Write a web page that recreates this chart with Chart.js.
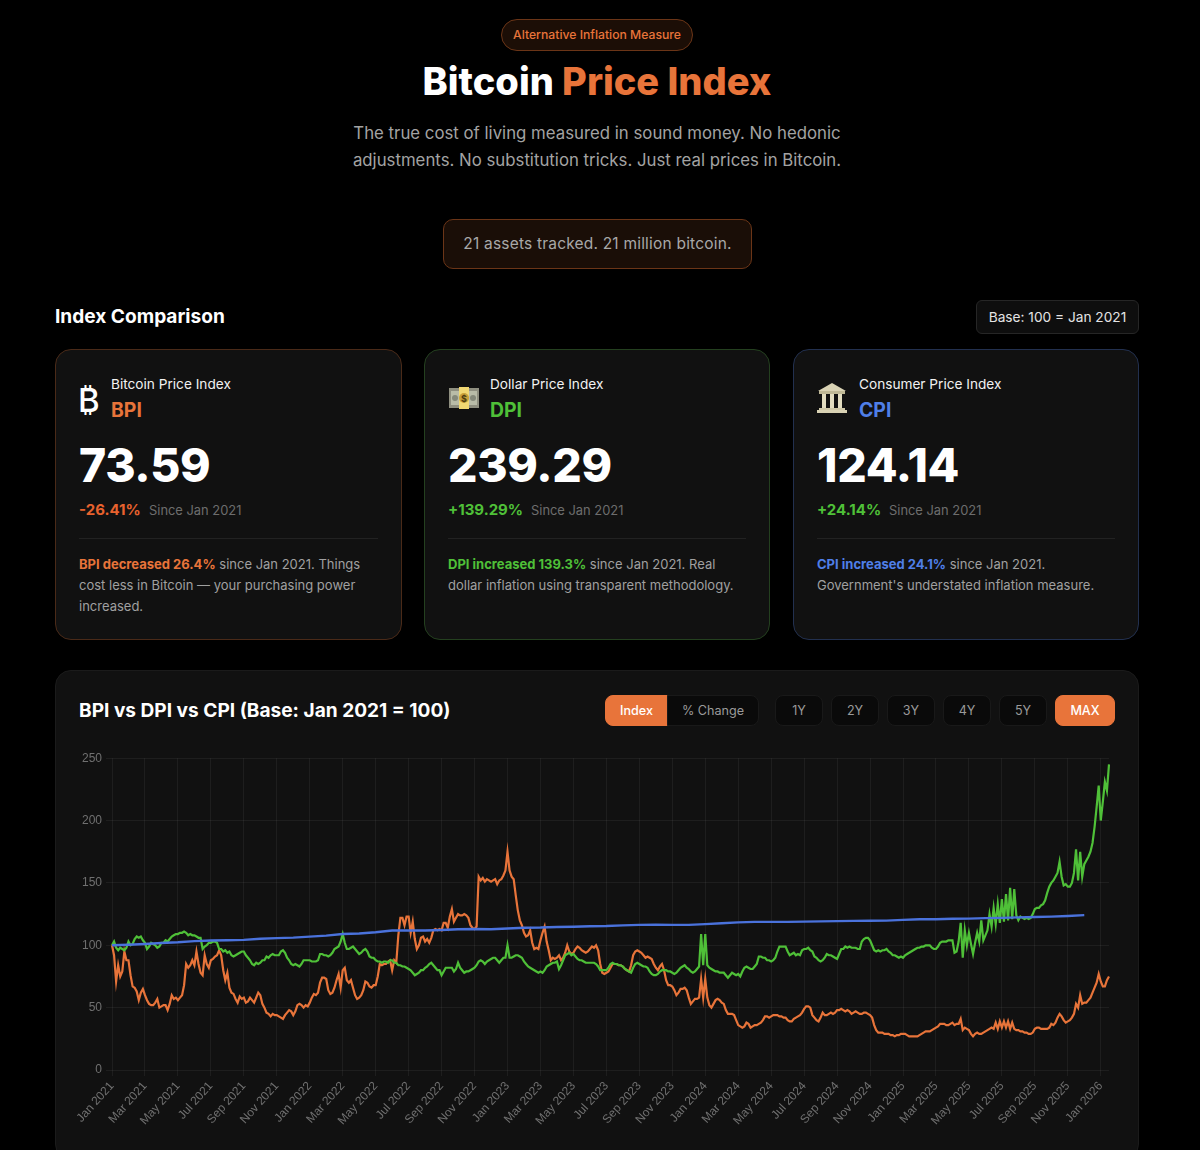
<!DOCTYPE html>
<html lang="en"><head><meta charset="utf-8"><title>Bitcoin Price Index</title>
<script src="https://cdn.jsdelivr.net/npm/chart.js@4"></script>
<style>
*{box-sizing:border-box;margin:0;padding:0}
html,body{width:1200px;height:1150px;overflow:hidden;background:#000;font-family:Inter,sans-serif;color:#fff}
.abs{position:absolute}
.badge{left:501px;top:19px;width:192px;height:32px;border:1px solid #6b3517;background:#1c0e06;border-radius:16px;color:#e8743a;font-size:12.2px;font-weight:500;display:flex;align-items:center;justify-content:center;padding-bottom:1px}
h1{left:0;width:1194px;top:58px;text-align:center;font-size:38px;line-height:46px;font-weight:800;letter-spacing:0}
h1 span{color:#e8743a}
.sub{left:0;width:1194px;top:120px;text-align:center;font-size:16.8px;line-height:27px;color:#a3a3a3}
.pill{left:443px;top:219px;width:309px;height:50px;border:1px solid #6b3517;background:#1a0e07;border-radius:10px;color:#a8a8a8;font-size:15.5px;letter-spacing:.2px;display:flex;align-items:center;justify-content:center;padding-bottom:2px}
h2{left:55px;top:304px;font-size:19.1px;line-height:25px;font-weight:700}
.base{left:976px;top:300px;width:163px;height:34px;border:1px solid #262626;background:#0e0e0e;border-radius:6px;font-size:13.7px;color:#e4e4e4;display:flex;align-items:center;justify-content:center;padding-bottom:1px}
.card{top:349px;height:291px;background:#111;border-radius:16px;border:1px solid}
.card .name{position:absolute;top:25px;font-size:13.65px;line-height:18px;color:#f2f2f2}
.card .code{position:absolute;top:48px;font-size:19.4px;line-height:25px;font-weight:700}
.card .val{position:absolute;left:23px;top:88px;font-size:46.3px;line-height:54px;font-weight:800;letter-spacing:-.3px}
.card .chg{position:absolute;left:23px;top:150px;font-size:15px;line-height:20px;font-weight:700}
.card .since{position:absolute;top:151px;font-size:12.9px;line-height:20px;color:#6d6d6d}
.card hr{position:absolute;left:23px;right:23px;top:188px;border:0;border-top:1px solid #222}
.card p{position:absolute;left:23px;right:20px;top:204px;font-size:13px;line-height:21px;color:#a0a0a0}
.card p b{font-weight:700}
.icon{position:absolute}
.panel{left:55px;top:670px;width:1084px;height:490px;background:#111;border-radius:16px;border:1px solid #1b1b1b}
h3{left:79px;top:697px;font-size:19.1px;line-height:26px;font-weight:700}
.btn{top:695px;height:31px;background:#0a0a0a;border:1px solid #191919;border-radius:8px;color:#9a9a9a;font-size:12.6px;display:flex;align-items:center;justify-content:center}
.on{background:#e8743a;border-color:#e8743a;color:#fff;font-weight:500}
#wrap{left:59px;top:747px;width:1056px;height:393px}
</style></head><body>
<div class="abs badge">Alternative Inflation Measure</div>
<h1 class="abs">Bitcoin <span>Price Index</span></h1>
<div class="abs sub">The true cost of living measured in sound money. No hedonic<br>adjustments. No substitution tricks. Just real prices in Bitcoin.</div>
<div class="abs pill">21 assets tracked. 21 million bitcoin.</div>
<h2 class="abs">Index Comparison</h2>
<div class="abs base">Base: 100 = Jan 2021</div>

<div class="abs card" style="left:55px;width:347px;border-color:#4a2a18">
 <div class="icon" style="left:22px;top:28px;font-size:33px;line-height:44px;font-weight:500;color:#fff">₿</div>
 <div class="name" style="left:55px">Bitcoin Price Index</div><div class="code" style="left:55px;color:#e8743a">BPI</div>
 <div class="val">73.59</div><div class="chg" style="color:#e8622e">-26.41%</div><div class="since" style="left:93px">Since Jan 2021</div><hr>
 <p><b style="color:#e8743a">BPI decreased 26.4%</b> since Jan 2021. Things cost less in Bitcoin — your purchasing power increased.</p>
</div>
<div class="abs card" style="left:424px;width:346px;border-color:#24401f">
 <svg class="icon" style="left:24px;top:36px" width="30" height="24" viewBox="0 0 30 24"><rect x="0" y="2" width="30" height="20" fill="#8f8f80"/><rect x="2" y="5" width="26" height="14" fill="#b9bca8"/><circle cx="6" cy="12" r="3" fill="#85897a"/><circle cx="24" cy="12" r="3" fill="#85897a"/><rect x="10" y="1" width="10" height="22" fill="#f1d873"/><circle cx="15" cy="12" r="5" fill="#c9a13a"/><text x="15" y="15.5" font-size="9" text-anchor="middle" fill="#4c3c10" font-family="Inter" font-weight="700">$</text></svg>
 <div class="name" style="left:65px">Dollar Price Index</div><div class="code" style="left:65px;color:#4fc038">DPI</div>
 <div class="val">239.29</div><div class="chg" style="color:#4fc038">+139.29%</div><div class="since" style="left:106px">Since Jan 2021</div><hr>
 <p><b style="color:#4fc038">DPI increased 139.3%</b> since Jan 2021. Real dollar inflation using transparent methodology.</p>
</div>
<div class="abs card" style="left:793px;width:346px;border-color:#22304f">
 <svg class="icon" style="left:22px;top:32px" width="32" height="32" viewBox="0 0 32 32"><path d="M16 1L30 9H2Z" fill="#d9d2b4"/><rect x="3" y="9" width="26" height="3" fill="#bfb896"/><rect x="6" y="12" width="4" height="14" fill="#e2dcc0"/><rect x="14" y="12" width="4" height="14" fill="#e2dcc0"/><rect x="22" y="12" width="4" height="14" fill="#e2dcc0"/><rect x="3" y="26" width="26" height="2" fill="#cfc8a8"/><rect x="1" y="28" width="30" height="3" fill="#d9d2b4"/></svg>
 <div class="name" style="left:65px">Consumer Price Index</div><div class="code" style="left:65px;color:#4f7fe8">CPI</div>
 <div class="val">124.14</div><div class="chg" style="color:#4fc038">+24.14%</div><div class="since" style="left:95px">Since Jan 2021</div><hr>
 <p><b style="color:#4f7fe8">CPI increased 24.1%</b> since Jan 2021. Government's understated inflation measure.</p>
</div>

<div class="abs panel"></div>
<h3 class="abs">BPI vs DPI vs CPI (Base: Jan 2021 = 100)</h3>
<div class="abs btn on" style="left:605px;width:63px;border-radius:8px 0 0 8px">Index</div>
<div class="abs btn" style="left:667px;width:92px;border-radius:0 8px 8px 0">% Change</div>
<div class="abs btn" style="left:775px;width:48px">1Y</div>
<div class="abs btn" style="left:831px;width:48px">2Y</div>
<div class="abs btn" style="left:887px;width:48px">3Y</div>
<div class="abs btn" style="left:943px;width:48px">4Y</div>
<div class="abs btn" style="left:999px;width:48px">5Y</div>
<div class="abs btn on" style="left:1055px;width:60px">MAX</div>
<div class="abs" id="wrap"><canvas id="c" width="1056" height="393"></canvas></div>
<script>
const months=['Jan 2021','Feb 2021','Mar 2021','Apr 2021','May 2021','Jun 2021','Jul 2021','Aug 2021','Sep 2021','Oct 2021','Nov 2021','Dec 2021',
'Jan 2022','Feb 2022','Mar 2022','Apr 2022','May 2022','Jun 2022','Jul 2022','Aug 2022','Sep 2022','Oct 2022','Nov 2022','Dec 2022',
'Jan 2023','Feb 2023','Mar 2023','Apr 2023','May 2023','Jun 2023','Jul 2023','Aug 2023','Sep 2023','Oct 2023','Nov 2023','Dec 2023',
'Jan 2024','Feb 2024','Mar 2024','Apr 2024','May 2024','Jun 2024','Jul 2024','Aug 2024','Sep 2024','Oct 2024','Nov 2024','Dec 2024',
'Jan 2025','Feb 2025','Mar 2025','Apr 2025','May 2025','Jun 2025','Jul 2025','Aug 2025','Sep 2025','Oct 2025','Nov 2025','Dec 2025','Jan 2026'];
const samplesPerMonth=8;
const bpi=[
100,92,71,84,75,79,95,88, 88,76,67,66,63,56,62,65, 60,56,53,52,52,54,57,50, 51,52,52,48,53,60,57,58, 56,58,60,68,85,82,84,88, 84,95,85,78,76,92,85,82,
88,89,91,92,96,92,80,72, 78,66,62,61,57,54,59,57, 58,54,55,58,56,54,58,62, 60,53,50,46,45,43,45,44, 44,43,42,41,44,46,48,47, 44,47,52,53,52,50,52,51,
54,58,61,60,62,70,74,74, 73,64,61,62,66,72,77,66, 80,82,72,70,72,66,60,57, 58,60,64,71,70,67,66,68, 68,75,85,84,85,85,87,88, 80,88,86,108,122,122,116,123,
123,110,119,105,97,100,106,107, 103,105,102,106,112,113,112,113, 112,118,118,114,123,129,119,122, 125,124,124,125,124,122,116,114, 113,115,155,152,154,151,153,152, 151,152,153,149,152,153,156,160,
175,160,155,153,140,128,120,116, 110,107,108,112,102,97,98,97, 104,110,115,103,96,88,90,89, 90,92,88,90,94,100,95,93, 94,97,99,98,96,95,94,95, 97,99,98,100,96,85,78,77,
78,79,82,85,85,85,84,84, 83,81,80,79,84,92,95,96, 95,94,92,90,91,90,89,85, 82,80,83,85,80,72,68,68, 67,64,60,62,65,65,66,64, 58,53,55,57,57,58,73,58,
73,58,52,50,53,56,57,56, 54,53,48,45,45,45,44,40, 36,35,34,35,38,37,34,35, 36,36,37,38,40,43,43,42, 43,44,44,44,43,43,42,42, 40,39,39,41,42,43,44,46,
49,51,51,50,44,42,40,39, 42,46,44,44,45,46,45,46, 48,48,49,48,47,48,47,45, 46,47,46,45,45,46,46,45, 44,42,36,32,30,30,30,29, 29,29,28,28,27,28,28,29,
29,29,28,27,27,27,27,27, 28,29,30,31,31,31,32,33, 34,35,37,37,37,36,36,37, 38,36,37,37,41,32,34,33, 32,29,27,29,30,29,29,30, 31,32,33,34,33,38,33,39,
34,39,34,39,33,38,33,32, 32,31,31,30,30,29,29,30, 33,34,34,33,33,33,33,34, 37,36,38,42,45,43,40,38, 39,40,42,45,53,50,60,53, 54,54,56,58,62,66,70,77,
71,67,67,72,75];
const dpi=[
100,103,98,96,98,97,96,98, 103,100,101,105,107,106,107,104, 102,97,99,102,101,100,98,99, 102,102,104,103,105,107,108,109, 109,110,110,111,110,108,109,108, 108,107,106,106,97,99,100,102,
102,103,103,102,97,97,95,96, 94,95,92,91,92,93,94,95, 95,92,90,88,85,84,86,85, 86,88,88,91,90,92,93,92, 92,92,95,96,94,90,88,85, 84,85,84,83,85,88,88,88,
88,87,87,87,88,93,93,92, 92,91,92,94,97,98,99,103, 109,102,97,97,98,99,97,95, 93,94,96,97,95,91,90,90, 88,87,87,86,87,87,86,88, 88,86,86,84,84,83,83,82,
81,80,78,76,77,78,80,80, 82,83,85,86,84,82,80,80, 76,79,82,82,82,82,79,81, 86,82,80,78,79,79,80,81, 82,84,87,88,87,85,87,88, 89,90,90,88,86,88,90,90,
100,90,90,91,92,92,91,90, 87,85,83,82,81,80,79,78, 79,78,80,83,84,85,86,86, 87,81,84,88,92,93,94,92, 93,91,89,88,88,87,86,86, 86,86,86,85,83,80,80,80,
80,82,85,86,85,85,84,84, 83,81,80,79,78,82,85,86, 85,84,83,83,82,79,77,76, 76,77,79,80,80,80,79,79, 78,77,78,80,82,83,84,82, 81,79,78,79,81,83,109,84,
109,84,82,81,80,79,79,78, 78,78,76,74,76,78,77,76, 77,75,79,82,83,82,81,81, 83,85,91,91,90,90,88,88, 87,88,90,95,99,99,99,99, 95,92,93,94,92,93,92,96,
97,97,98,96,95,91,90,88, 87,88,90,93,92,92,91,90, 89,93,97,97,99,98,99,98, 98,98,97,97,103,105,106,106, 104,100,96,95,96,95,96,96, 97,95,94,92,92,91,90,91,
90,92,93,94,95,96,97,98, 98,99,99,100,100,100,98,97, 97,99,102,103,103,103,104,104, 104,94,95,103,118,90,112,100, 110,101,93,102,110,103,120,104, 108,112,125,115,130,117,133,118,
137,119,141,120,146,121,145,124, 120,123,122,121,122,121,122,125, 129,130,130,132,133,136,142,147, 150,152,155,158,167,155,148,149, 147,147,150,158,177,152,175,155, 165,168,171,175,182,195,211,228,
200,215,231,224,245];
const cpiMonthly=[100,100.4,101,101.8,102.4,103.3,103.8,104,104.3,105.2,105.7,106.1,
106.9,107.7,109,109.4,110.4,111.9,111.9,111.9,112.3,112.8,113,112.9,
113.4,114,114.2,114.7,114.9,115.3,115.5,116,116.4,116.5,116.4,116.4,
117,117.7,118.4,118.8,118.8,118.8,119,119.2,119.4,119.6,119.7,119.8,
120.4,120.9,120.9,121.3,121.4,121.8,122,122.4,122.7,123,123.5,124.14];
const tickEvery=2*samplesPerMonth;
const labels=bpi.map((_,i)=>months[Math.floor(i/samplesPerMonth)]);
const cpi=bpi.map((_,i)=>i%samplesPerMonth===0&&cpiMonthly[i/samplesPerMonth]!==undefined?cpiMonthly[i/samplesPerMonth]:null);
const line=(label,data,color,z,w)=>({label,data,borderColor:color,backgroundColor:color,borderWidth:w,pointRadius:0,tension:0,spanGaps:true,order:z});
new Chart(document.getElementById('c'),{type:'line',
 data:{labels,datasets:[line('BPI',bpi,'#e8743a',2,2.2),line('DPI',dpi,'#4fc038',1,2.2),line('CPI',cpi,'#4a72dc',0,2.4)]},
 options:{responsive:false,animation:false,devicePixelRatio:1,
  layout:{padding:{top:9,right:6,left:0,bottom:0}},
  plugins:{legend:{display:false},tooltip:{enabled:false}},
  scales:{
   x:{grid:{color:'rgba(255,255,255,0.055)',drawTicks:true,tickLength:6},border:{display:false},
      afterBuildTicks(s){s.ticks=s.ticks.filter(t=>t.value%tickEvery===0)},
      afterFit(s){s.height=70;s.paddingLeft=0;s.paddingRight=0},
      ticks:{autoSkip:false,minRotation:48,maxRotation:48,color:'#707070',font:{size:12,family:'"Liberation Sans"'}}},
   y:{min:0,max:250,afterFit(s){s.width=53},grid:{color:'rgba(255,255,255,0.055)',tickLength:6},border:{display:false},
      ticks:{stepSize:50,color:'#707070',padding:4,font:{size:12,family:'"Liberation Sans"'}}}
  }}});
</script>
</body></html>
